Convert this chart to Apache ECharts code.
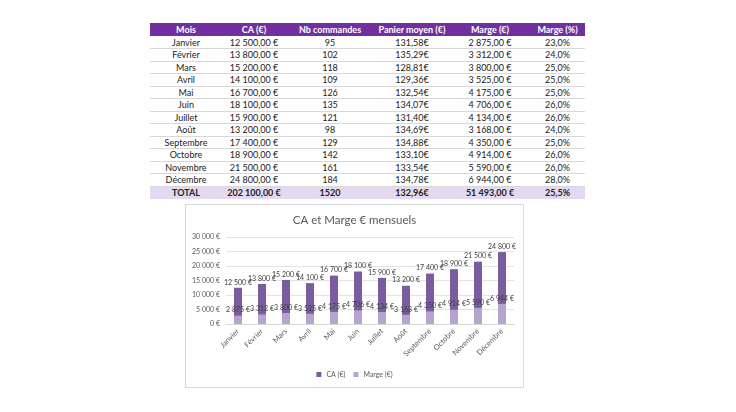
<!DOCTYPE html>
<html><head><meta charset="utf-8">
<script src="https://cdn.jsdelivr.net/npm/echarts@6/dist/echarts.min.js"></script>
<style>
html,body{margin:0;padding:0;background:#fff;width:736px;height:412px;overflow:hidden;font-family:Lato,"Open Sans",sans-serif;}
#tbl{position:absolute;left:150px;top:23px;border-collapse:collapse;font-size:9px;color:#222;}
#tbl td,#tbl th{padding:0;text-align:center;white-space:nowrap;box-sizing:border-box;}
#tbl td{height:12.53px;line-height:11px;border-bottom:1px solid #d8d8d8;}
#tbl th{background:#7030A0;color:#fff;font-weight:bold;height:13px;line-height:13px;}
#tbl tr.tot td{background:#E4D9F1;font-weight:bold;border-bottom:none;}
#box{position:absolute;left:185px;top:204px;width:337px;height:182px;border:1px solid #d9d9d9;background:#fff;}
#chart{width:337px;height:182px;}
</style></head>
<body>
<table id="tbl"><thead></thead><tbody></tbody></table>
<div id="box"><div id="chart"></div></div>
<script>
const headers = ["Mois","CA (€)","Nb commandes","Panier moyen (€)","Marge (€)","Marge (%)"];
const months = ["Janvier","Février","Mars","Avril","Mai","Juin","Juillet","Août","Septembre","Octobre","Novembre","Décembre"];
const ca = [12500,13800,15200,14100,16700,18100,15900,13200,17400,18900,21500,24800];
const commandes = [95,102,118,109,126,135,121,98,129,142,161,184];
const panier = ["131,58€","135,29€","128,81€","129,36€","132,54€","134,07€","131,40€","134,69€","134,88€","133,10€","133,54€","134,78€"];
const marge = [2875,3312,3800,3525,4175,4706,4134,3168,4350,4914,5590,6944];
const margePct = ["23,0%","24,0%","25,0%","25,0%","25,0%","26,0%","26,0%","24,0%","25,0%","26,0%","26,0%","28,0%"];
const totalRow = ["TOTAL","202 100,00 €","1520","132,96€","51 493,00 €","25,5%"];
const yTicks = [0,5000,10000,15000,20000,25000,30000];
const title = "CA et Marge € mensuels";

const colW = [72,64,88,76,80,55];
function grp(n){return String(n).replace(/\B(?=(\d{3})+(?!\d))/g," ");}
function eur2(n){return grp(n)+",00 €";}

const thead = document.querySelector('#tbl thead');
thead.innerHTML = '<tr>'+headers.map((t,i)=>'<th style="width:'+colW[i]+'px">'+t+'</th>').join('')+'</tr>';
const tbody = document.querySelector('#tbl tbody');
let b = '';
months.forEach((m,i)=>{
  b += '<tr><td>'+m+'</td><td>'+eur2(ca[i])+'</td><td>'+commandes[i]+'</td><td>'+panier[i]+'</td><td>'+eur2(marge[i])+'</td><td>'+margePct[i]+'</td></tr>';
});
b += '<tr class="tot">'+totalRow.map(t=>'<td>'+t+'</td>').join('')+'</tr>';
tbody.innerHTML = b;

const chart = echarts.init(document.getElementById('chart'));
const txt = '#595959';
chart.setOption({
  animation:false,
  textStyle:{fontFamily:'Lato, "Open Sans", sans-serif'},
  title:{text:title,left:'center',top:4,textStyle:{fontSize:11.5,fontWeight:'normal',color:txt}},
  legend:{bottom:4,left:'center',itemWidth:5,itemHeight:5,itemGap:8,icon:'rect',
    textStyle:{fontSize:7,color:txt},data:['CA (€)','Marge (€)']},
  grid:{left:40,right:9,top:32,bottom:63},
  xAxis:{type:'category',data:months,
    axisLine:{lineStyle:{color:'#d9d9d9'}},axisTick:{show:false},
    axisLabel:{rotate:45,fontSize:7.5,color:txt,interval:0,margin:6}},
  yAxis:{type:'value',min:0,max:yTicks[yTicks.length-1],interval:yTicks[1]-yTicks[0],
    axisLine:{show:false},axisTick:{show:false},
    splitLine:{lineStyle:{color:'#e3e3e3'}},
    axisLabel:{fontSize:7,color:txt,margin:6,formatter:v=>grp(v)+' €'}},
  series:[
    {name:'CA (€)',type:'bar',data:ca,barWidth:8,barGap:'-100%',
      itemStyle:{color:'#7A5C9F'},
      label:{show:true,position:'top',fontSize:7,color:'#404040',distance:2,formatter:p=>grp(p.value)+' €'}},
    {name:'Marge (€)',type:'bar',data:marge,barWidth:8,
      itemStyle:{color:'#B5A4CB'},
      label:{show:true,position:'top',fontSize:7,color:'#404040',distance:2,formatter:p=>grp(p.value)+' €'}}
  ]
});
</script>
</body></html>
